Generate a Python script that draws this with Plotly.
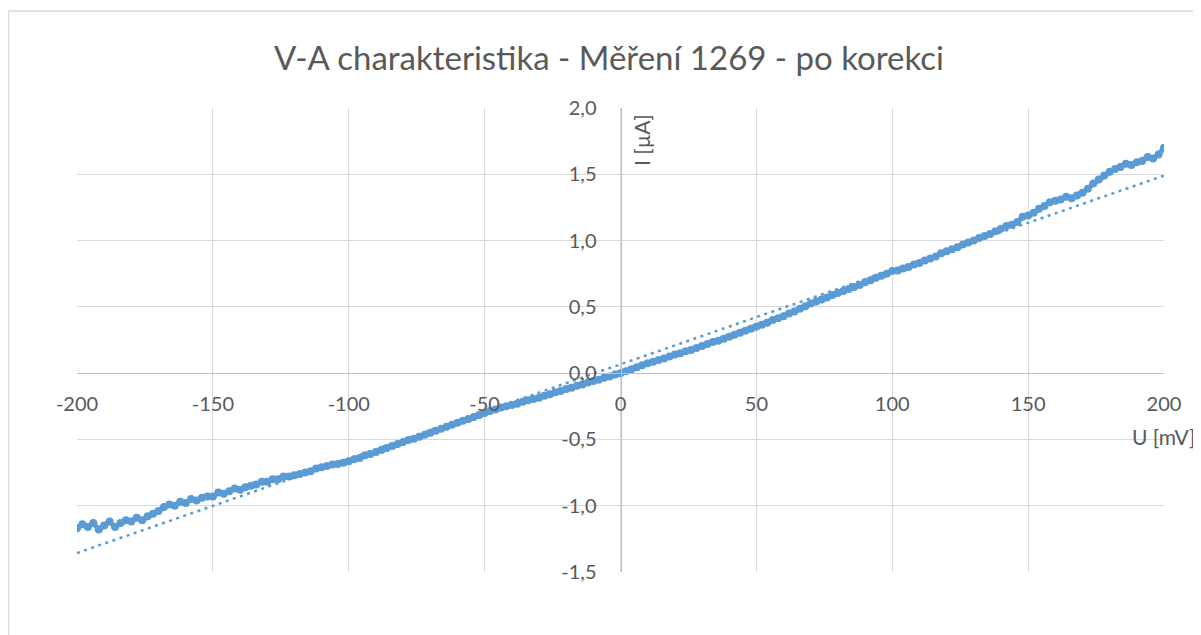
import plotly.graph_objects as go

u_mv = list(range(-200, 202, 2))
i_ua = [
    -1.17, -1.14, -1.16, -1.13, -1.18,
    -1.15, -1.12, -1.16, -1.13, -1.11,
    -1.12, -1.09, -1.11, -1.08, -1.06,
    -1.04, -1.01, -0.99, -1.00, -0.97,
    -0.98, -0.95, -0.96, -0.94, -0.93,
    -0.93, -0.90, -0.91, -0.89, -0.87,
    -0.88, -0.86, -0.85, -0.84, -0.82,
    -0.82, -0.80, -0.80, -0.78, -0.78,
    -0.77, -0.76, -0.75, -0.74, -0.72,
    -0.71, -0.70, -0.69, -0.685, -0.675,
    -0.665, -0.65, -0.64, -0.62, -0.61,
    -0.595, -0.58, -0.565, -0.55, -0.535,
    -0.52, -0.505, -0.495, -0.48, -0.465,
    -0.45, -0.435, -0.42, -0.405, -0.39,
    -0.375, -0.36, -0.345, -0.33, -0.315,
    -0.30, -0.285, -0.275, -0.26, -0.25,
    -0.24, -0.23, -0.215, -0.205, -0.195,
    -0.185, -0.17, -0.16, -0.145, -0.135,
    -0.12, -0.11, -0.095, -0.085, -0.07,
    -0.06, -0.05, -0.035, -0.025, -0.01,
    0.0, 0.015, 0.03, 0.045, 0.06,
    0.075, 0.085, 0.10, 0.11, 0.125,
    0.14, 0.15, 0.165, 0.175, 0.19,
    0.205, 0.22, 0.235, 0.245, 0.26,
    0.275, 0.29, 0.305, 0.32, 0.335,
    0.35, 0.365, 0.38, 0.40, 0.415,
    0.43, 0.45, 0.465, 0.485, 0.505,
    0.525, 0.54, 0.555, 0.57, 0.59,
    0.605, 0.62, 0.635, 0.65, 0.665,
    0.685, 0.70, 0.72, 0.735, 0.75,
    0.77, 0.775, 0.79, 0.80, 0.82,
    0.83, 0.85, 0.865, 0.88, 0.905,
    0.92, 0.935, 0.95, 0.97, 0.985,
    1.00, 1.02, 1.035, 1.05, 1.07,
    1.09, 1.11, 1.12, 1.14, 1.18,
    1.19, 1.21, 1.24, 1.26, 1.29,
    1.30, 1.31, 1.33, 1.32, 1.34,
    1.36, 1.39, 1.43, 1.46, 1.49,
    1.52, 1.54, 1.555, 1.58, 1.57,
    1.59, 1.60, 1.63, 1.62, 1.65,
    1.70,
]

# linear trendline (Excel), end points
trend_u = [-200, 200]
trend_i = [-1.357, 1.49]

x_ticks = [-200, -150, -100, -50, 0, 50, 100, 150, 200]
x_tick_labels = ["-200", "-150", "-100", "-50", "0", "50", "100", "150", "200"]
y_ticks = [-1.5, -1.0, -0.5, 0.0, 0.5, 1.0, 1.5, 2.0]
y_tick_labels = ["-1,5", "-1,0", "-0,5", "0,0", "0,5", "1,0", "1,5", "2,0"]

blue = "#5B9BD5"
grey_txt = "#595959"
font = "Lato"

# page body has an 8px margin, so the figure is a bit smaller than the window
W, H = 1193, 627
L, R, T, B = 69, 37, 100, 63
pw, ph = W - L - R, H - T - B


def px(x):
    return (x - L) / pw


def py(y):
    return (H - B - y) / ph


fig = go.Figure()

fig.add_trace(go.Scatter(
    x=u_mv, y=i_ua, mode="lines+markers",
    line=dict(color=blue, width=5),
    marker=dict(color=blue, size=8, line=dict(width=0)),
    showlegend=False,
))

fig.add_trace(go.Scatter(
    x=trend_u, y=trend_i, mode="lines",
    line=dict(color=blue, width=2.5, dash="3px,4.5px"),
    showlegend=False,
))

fig.update_layout(
    width=W, height=H,
    margin=dict(l=L, r=R, t=T, b=B),
    paper_bgcolor="white", plot_bgcolor="white",
    font=dict(family=font, color=grey_txt, size=20),
    title=dict(
        text="V-A charakteristika - Měření 1269 - po korekci",
        font=dict(size=33, color=grey_txt, family=font),
        x=(609 - 8) / W, xref="container", xanchor="center",
        y=1 - 50 / H, yref="container", yanchor="middle",
    ),
    xaxis=dict(
        range=[-200, 200], tickvals=x_ticks, ticktext=x_tick_labels,
        showgrid=True, gridcolor="#D9D9D9", gridwidth=1,
        zeroline=False, showline=True, linecolor="#BFBFBF", linewidth=1,
        anchor="free", position=1.5 / 3.5,
        ticks="", ticklabelstandoff=13,
        tickfont=dict(size=20, color=grey_txt),
    ),
    yaxis=dict(
        range=[-1.5, 2.0], tickvals=y_ticks, ticktext=y_tick_labels,
        showgrid=True, gridcolor="#D9D9D9", gridwidth=1,
        zeroline=False, showline=True, linecolor="#BFBFBF", linewidth=1,
        anchor="free", position=0.5,
        ticks="", ticklabelstandoff=20,
        tickfont=dict(size=20, color=grey_txt),
    ),
    annotations=[
        dict(text="I [µA]", textangle=-90, x=px(633), y=py(132),
             xref="paper", yref="paper", xanchor="center", yanchor="middle",
             showarrow=False, font=dict(size=21, color=grey_txt)),
        dict(text="U [mV]", x=px(1155.5), y=py(428),
             xref="paper", yref="paper", xanchor="center", yanchor="middle",
             showarrow=False, font=dict(size=21, color=grey_txt)),
    ],
    shapes=[
        # chart-area border (top and left edge visible)
        dict(type="line", xref="paper", yref="paper",
             x0=px(0.5), x1=1.1, y0=py(3), y1=py(3),
             line=dict(color="#D9D9D9", width=1.5)),
        dict(type="line", xref="paper", yref="paper",
             x0=px(0.5), x1=px(0.5), y0=py(3), y1=-0.3,
             line=dict(color="#D9D9D9", width=1.5)),
    ],
)

fig.write_html("out.html")
